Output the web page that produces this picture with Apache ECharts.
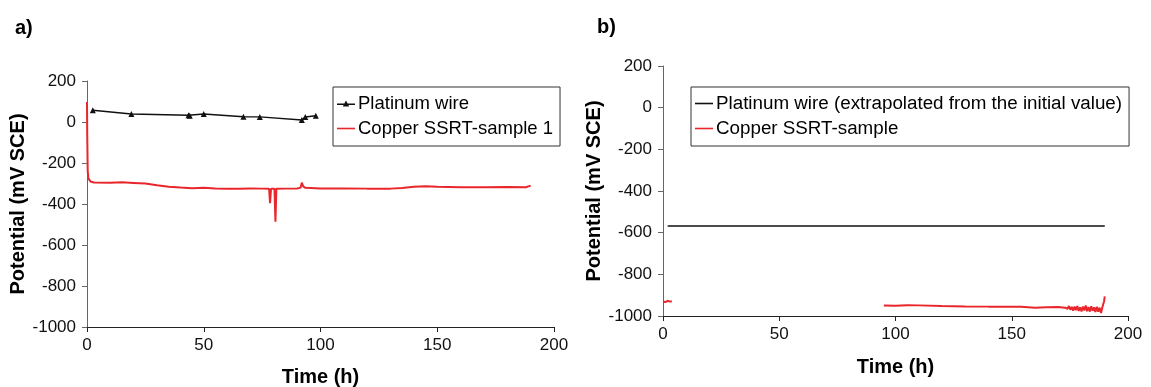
<!DOCTYPE html>
<html>
<head>
<meta charset="utf-8">
<title>Open-circuit potential vs. time</title>
<script src="https://cdn.jsdelivr.net/npm/echarts@6/dist/echarts.min.js"></script>
<style>
  html, body { margin: 0; padding: 0; background: #fff; }
  #chart { width: 1151px; height: 387px; }
</style>
</head>
<body>
<div id="chart"></div>
<script>
// Tick values shared by both panels
const timeTicks = [0, 50, 100, 150, 200];
const potentialTicks = [-1000, -800, -600, -400, -200, 0, 200];

// Panel a) – platinum wire reference readings [time h, mV SCE]
const platinumA = [
  [2.5, 57], [19, 39], [43.5, 33], [44, 30], [50, 39],
  [67, 26], [74, 25], [92, 10], [93.5, 24], [98, 30]
];

// Panel a) – copper SSRT sample 1 potential [time h, mV SCE]
const copperA = [
  [0, 98], [0.1, -60], [0.3, -240], [0.6, -275], [1.5, -290], [3, -295],
  [10, -296], [15, -294], [20, -297], [25, -300], [30, -309], [35, -316],
  [40, -320], [45, -323], [50, -321], [55, -324], [60, -326], [65, -326],
  [70, -324], [75, -325], [78, -326], [78.4, -396], [78.8, -326],
  [80.3, -326], [80.7, -486], [81.1, -326], [85, -325], [90, -324],
  [91.5, -320], [92, -296], [92.6, -314], [93.5, -321], [100, -324],
  [110, -324], [120, -325], [130, -325], [135, -322], [140, -316],
  [145, -314], [150, -316], [160, -318], [170, -318], [180, -317],
  [188, -318], [189, -314], [190, -311]
];

// Panel b) – platinum wire, extrapolated from its initial value
const platinumB = [[2, -568], [190, -568]];

// Panel b) – copper SSRT sample potential (logging gap between the two runs)
const copperB = [
  [0, -930], [1, -933], [2, -927], [3, -931], [3.8, -929],
  null,
  [95, -950], [100, -951], [105, -948], [110, -949], [120, -952],
  [130, -954], [140, -955], [150, -955], [154, -956], [154.3, -948],
  [154.6, -961], [160, -960], [165, -958], [170, -957], [173, -960],
  [174, -966], [174.6, -952], [175.2, -970], [175.8, -956], [176.4, -974],
  [177, -955], [177.6, -972], [178.2, -952], [178.8, -976], [179.4, -958],
  [180, -978], [180.6, -955], [181.2, -973], [181.8, -950], [182.4, -977],
  [183, -957], [183.6, -979], [184.2, -953], [184.8, -975], [185.4, -958],
  [186, -981], [186.6, -956], [187.2, -979], [187.8, -960], [188.4, -986],
  [188.9, -962], [189.3, -945], [189.7, -930], [190, -906]
];

const FONT = '"Liberation Sans", Arial, Helvetica, sans-serif';
const RED = '#e8262b';

// Legend glyphs: plain line, and line with a small triangle marker
const ICON_LINE = 'path://M0,3.2H18V4.8H0Z';
const ICON_LINE_TRI = 'path://M0,4.6H18V6.0H0Z M9,1.6L12.2,7.4H5.8Z';

function xAxisFor(gridIndex, gap) {
  return {
    type: 'value', gridIndex: gridIndex,
    min: timeTicks[0], max: timeTicks[timeTicks.length - 1], interval: 50,
    name: 'Time (h)', nameLocation: 'middle', nameGap: gap,
    nameTextStyle: { fontFamily: FONT, fontSize: 20, fontWeight: 'bold', color: '#000' },
    axisLine: { show: true, onZero: false, lineStyle: { color: '#222', width: 1 } },
    axisTick: { show: true, inside: false, length: 5, lineStyle: { color: '#222' } },
    axisLabel: { fontFamily: FONT, fontSize: 17, color: '#111', margin: 10 },
    splitLine: { show: false }
  };
}

function yAxisFor(gridIndex, gap) {
  return {
    type: 'value', gridIndex: gridIndex,
    min: potentialTicks[0], max: potentialTicks[potentialTicks.length - 1], interval: 200,
    name: 'Potential (mV SCE)', nameLocation: 'middle', nameGap: gap,
    nameTextStyle: { fontFamily: FONT, fontSize: 20, fontWeight: 'bold', color: '#000' },
    axisLine: { show: true, onZero: false, lineStyle: { color: '#666', width: 1 } },
    axisTick: { show: true, inside: false, length: 5, lineStyle: { color: '#666' } },
    axisLabel: { fontFamily: FONT, fontSize: 17, color: '#111', margin: 11,
                 formatter: function (v) { return String(v); } },
    splitLine: { show: false }
  };
}

function legendFor(left, items, fontSize) {
  return {
    orient: 'vertical', left: left, top: 87,
    data: items,
    backgroundColor: '#fff',
    borderColor: '#333', borderWidth: 1,
    padding: [7, 7, 8, 4], itemGap: 6,
    itemWidth: 18, itemHeight: 8,
    textStyle: { fontFamily: FONT, fontSize: fontSize, color: '#000', padding: [0, 0, 0, -2] }
  };
}

const chart = echarts.init(document.getElementById('chart'), null, { renderer: 'canvas' });

chart.setOption({
  animation: false,
  backgroundColor: '#fff',
  title: [
    { text: 'a)', left: 10, top: 13, textStyle: { fontFamily: FONT, fontSize: 20, fontWeight: 'bold', color: '#000' } },
    { text: 'b)', left: 592, top: 12, textStyle: { fontFamily: FONT, fontSize: 20, fontWeight: 'bold', color: '#000' } }
  ],
  grid: [
    { left: 87, right: 597, top: 81, bottom: 60, containLabel: false, outerBoundsMode: 'none' },
    { left: 663, right: 23, top: 66, bottom: 71, containLabel: false, outerBoundsMode: 'none' }
  ],
  xAxis: [xAxisFor(0, 40), xAxisFor(1, 41)],
  yAxis: [yAxisFor(0, 54), yAxisFor(1, 49)],
  legend: [
    legendFor(333, [
      { name: 'Platinum wire', icon: ICON_LINE_TRI },
      { name: 'Copper SSRT-sample 1', icon: ICON_LINE }
    ], 18.5),
    legendFor(691, [
      { name: 'Platinum wire (extrapolated from the initial value)', icon: ICON_LINE },
      { name: 'Copper SSRT-sample', icon: ICON_LINE }
    ], 18.8)
  ],
  series: [
    {
      name: 'Copper SSRT-sample 1', type: 'line', xAxisIndex: 0, yAxisIndex: 0,
      data: copperA, showSymbol: false, symbol: 'none',
      lineStyle: { color: RED, width: 2 }, itemStyle: { color: RED }, z: 2
    },
    {
      name: 'Platinum wire', type: 'line', xAxisIndex: 0, yAxisIndex: 0,
      data: platinumA, symbol: 'triangle', symbolSize: 6, showSymbol: true,
      lineStyle: { color: '#111', width: 1.5 }, itemStyle: { color: '#111' }, z: 3
    },
    {
      name: 'Platinum wire (extrapolated from the initial value)', type: 'line', xAxisIndex: 1, yAxisIndex: 1,
      data: platinumB, symbol: 'none', showSymbol: false,
      lineStyle: { color: '#111', width: 1.5 }, itemStyle: { color: '#111' }
    },
    {
      name: 'Copper SSRT-sample', type: 'line', xAxisIndex: 1, yAxisIndex: 1,
      data: copperB, symbol: 'none', showSymbol: false, connectNulls: false,
      lineStyle: { color: RED, width: 2 }, itemStyle: { color: RED }
    }
  ]
});
</script>
</body>
</html>
